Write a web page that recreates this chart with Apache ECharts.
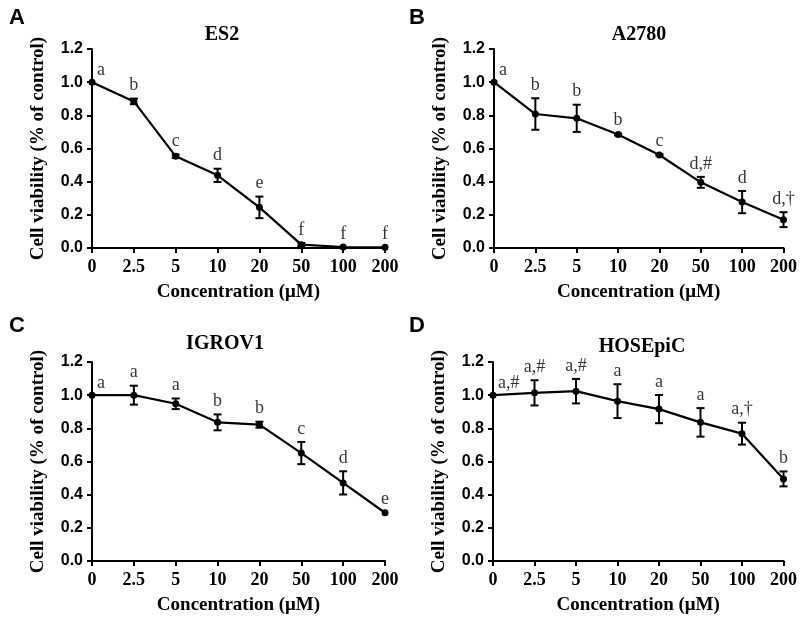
<!DOCTYPE html>
<html>
<head>
<meta charset="utf-8">
<script src="https://cdn.jsdelivr.net/npm/echarts@6/dist/echarts.min.js"></script>
<style>html,body{margin:0;padding:0;background:#fff}#c{width:800px;height:618px}</style>
</head>
<body>
<div id="c"></div>
<script>
const categories = ['0', '2.5', '5', '10', '20', '50', '100', '200'];
const panelLetters = ['A', 'B', 'C', 'D'];
const cellLines = ['ES2', 'A2780', 'IGROV1', 'HOSEpiC'];

const es2Values = [1.0, 0.884, 0.553, 0.438, 0.245, 0.02, 0.006, 0.004];
const es2Errors = [0, 0.017, 0.01, 0.04, 0.065, 0.01, 0, 0];
const es2Letters = ['a', 'b', 'c', 'd', 'e', 'f', 'f', 'f'];

const a2780Values = [1.0, 0.808, 0.782, 0.685, 0.561, 0.396, 0.277, 0.171];
const a2780Errors = [0, 0.095, 0.082, 0.005, 0.005, 0.033, 0.067, 0.045];
const a2780Letters = ['a', 'b', 'b', 'b', 'c', 'd,#', 'd', 'd,†'];

const igrovValues = [1.0, 1.0, 0.948, 0.836, 0.822, 0.651, 0.471, 0.291];
const igrovErrors = [0, 0.057, 0.032, 0.048, 0.018, 0.067, 0.07, 0];
const igrovLetters = ['a', 'a', 'a', 'b', 'b', 'c', 'd', 'e'];

const hoseValues = [1.0, 1.014, 1.024, 0.964, 0.916, 0.836, 0.768, 0.495];
const hoseErrors = [0, 0.076, 0.074, 0.102, 0.085, 0.086, 0.066, 0.045];
const hoseLetters = ['a,#', 'a,#', 'a,#', 'a', 'a', 'a', 'a,†', 'b'];

const yTicks = [0, 0.2, 0.4, 0.6, 0.8, 1.0, 1.2];

const panels = [
  {v: es2Values, e: es2Errors, l: es2Letters},
  {v: a2780Values, e: a2780Errors, l: a2780Letters},
  {v: igrovValues, e: igrovErrors, l: igrovLetters},
  {v: hoseValues, e: hoseErrors, l: hoseLetters}
];

const SERIF = '"Liberation Serif", "Times New Roman", serif';
const SANS = '"Liberation Sans", Arial, sans-serif';

const gridPos = [
  {left: 92, top: 49, width: 293, height: 199},
  {left: 494, top: 49, width: 293, height: 199},
  {left: 92, top: 362, width: 293, height: 199},
  {left: 493, top: 362, width: 293, height: 199}
];
const titlePos = [[222, 35], [639, 35], [225, 344], [642, 347]];
const letterPos = [[17, 18], [417, 18], [17, 326], [417, 326]];

const grids = [], xAxes = [], yAxes = [], series = [], graphics = [];

panels.forEach((p, i) => {
  grids.push(Object.assign({containLabel: false}, gridPos[i]));
  xAxes.push({
    type: 'category', gridIndex: i, data: categories, boundaryGap: false,
    name: 'Concentration (μM)', nameLocation: 'middle', nameGap: 35,
    nameTextStyle: {fontFamily: SERIF, fontWeight: 'bold', fontSize: 19, color: '#000'},
    axisLine: {lineStyle: {color: '#000', width: 2}},
    axisTick: {show: true, inside: false, length: 5, lineStyle: {width: 2, color: '#000'}},
    axisLabel: {fontFamily: SERIF, fontWeight: 'bold', fontSize: 18, color: '#000', margin: 10, interval: 0},
    splitLine: {show: false}
  });
  yAxes.push({
    type: 'value', gridIndex: i, min: 0, max: 1.2, interval: 0.2,
    name: 'Cell viability (% of control)', nameLocation: 'middle', nameGap: 44, nameRotate: 90,
    nameTextStyle: {fontFamily: SERIF, fontWeight: 'bold', fontSize: 19, color: '#000'},
    axisLine: {show: true, lineStyle: {color: '#000', width: 2}},
    axisTick: {show: true, inside: false, length: 5, lineStyle: {width: 2, color: '#000'}},
    axisLabel: {fontFamily: SANS, fontWeight: 'bold', fontSize: 16, color: '#000', margin: 9,
      formatter: v => v.toFixed(1)},
    splitLine: {show: false}
  });
  series.push({
    type: 'line', xAxisIndex: i, yAxisIndex: i, data: p.v,
    symbol: 'circle', symbolSize: 7, showSymbol: true,
    lineStyle: {color: '#000', width: 2.2}, itemStyle: {color: '#000'},
    z: 3, animation: false
  });
  series.push({
    type: 'custom', xAxisIndex: i, yAxisIndex: i,
    data: p.v.map((v, k) => [k, v, p.e[k]]),
    renderItem: function (params, api) {
      const err = api.value(2);
      if (!err) return null;
      const x = api.value(0), v = api.value(1);
      const top = api.coord([x, v + err]);
      const bot = api.coord([x, v - err]);
      const w = 4;
      const st = {stroke: '#000', lineWidth: 2};
      return {
        type: 'group', children: [
          {type: 'line', shape: {x1: top[0], y1: top[1], x2: bot[0], y2: bot[1]}, style: st},
          {type: 'line', shape: {x1: top[0] - w, y1: top[1], x2: top[0] + w, y2: top[1]}, style: st},
          {type: 'line', shape: {x1: bot[0] - w, y1: bot[1], x2: bot[0] + w, y2: bot[1]}, style: st}
        ]
      };
    },
    z: 2, animation: false
  });
  series.push({
    type: 'scatter', xAxisIndex: i, yAxisIndex: i, symbolSize: 0,
    data: p.v.map((v, k) => ({
      value: [k, v + p.e[k]],
      label: k === 0 ? {align: 'left', offset: [5, 1]} : {}
    })),
    label: {
      show: true, position: 'top', distance: 4,
      formatter: prm => p.l[prm.dataIndex],
      fontFamily: SERIF, fontSize: 18, color: '#000'
    },
    silent: true, animation: false
  });
  graphics.push({
    type: 'text', x: titlePos[i][0], y: titlePos[i][1],
    style: {text: cellLines[i], fontFamily: SERIF, fontWeight: 'bold', fontSize: 20, fill: '#000',
      textAlign: 'center', textVerticalAlign: 'middle'}
  });
  graphics.push({
    type: 'text', x: letterPos[i][0], y: letterPos[i][1],
    style: {text: panelLetters[i], fontFamily: SANS, fontWeight: 'bold', fontSize: 22, fill: '#000',
      textAlign: 'center', textVerticalAlign: 'middle'}
  });
});

const chart = echarts.init(document.getElementById('c'), null, {renderer: 'canvas'});
chart.setOption({
  backgroundColor: '#fff',
  animation: false,
  grid: grids, xAxis: xAxes, yAxis: yAxes, series: series, graphic: graphics
});
</script>
</body>
</html>
